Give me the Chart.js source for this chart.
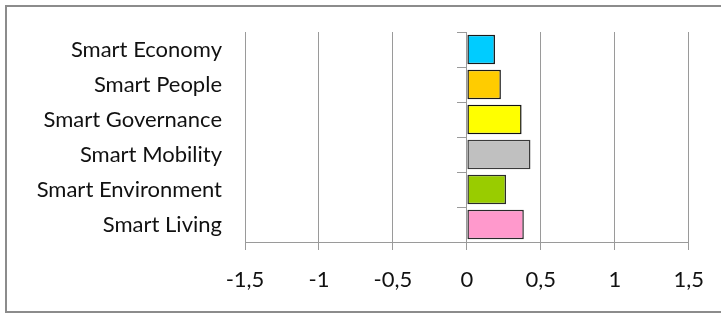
<!DOCTYPE html>
<html>
<head>
<meta charset="utf-8">
<script src="https://cdn.jsdelivr.net/npm/chart.js@4"></script>
<style>
  html, body { margin: 0; padding: 0; background: #fff; }
  #wrap { position: relative; width: 721px; height: 320px; overflow: hidden; }
  #frame { position: absolute; left: 5px; top: 5px; width: 800px; height: 304px; border: 2px solid #8c8c8c; }
  canvas { position: absolute; left: 0; top: 0; }
</style>
</head>
<body>
<div id="wrap">
  <div id="frame"></div>
  <canvas id="barChart" width="721" height="320"></canvas>
</div>
<script>
// データ
const categories = ['Smart Economy', 'Smart People', 'Smart Governance', 'Smart Mobility', 'Smart Environment', 'Smart Living'];
const scores = [0.19, 0.23, 0.37, 0.43, 0.265, 0.385];
const xTicks = [-1.5, -1, -0.5, 0, 0.5, 1, 1.5];

// 色
const barColors = ['#00ccff', '#ffcc00', '#ffff00', '#c0c0c0', '#99cc00', '#ff99cc'];
const barBorders = ['#1a1a1a', '#1a1a1a', '#111', '#3a3a3a', '#2a2a2a', '#2a2a2a'];

const labelFont = { family: 'Lato, "Open Sans", sans-serif', size: 22 };

const ctx = document.getElementById('barChart').getContext('2d');
const barChart = new Chart(ctx, {
    type: 'bar',
    data: {
        labels: categories,
        datasets: [{
            data: scores,
            backgroundColor: barColors,
            borderColor: barBorders,
            borderWidth: 1.5,
            borderSkipped: false,
            categoryPercentage: 1,
            barPercentage: 0.84
        }]
    },
    options: {
        indexAxis: 'y',
        responsive: false,
        animation: false,
        layout: { padding: { top: 32, right: 31, left: 0, bottom: 0 } },
        plugins: { legend: { display: false }, tooltip: { enabled: false } },
        scales: {
            x: {
                min: -1.5,
                max: 1.5,
                afterBuildTicks: (axis) => { axis.ticks = xTicks.map(v => ({ value: v })); },
                afterFit: (axis) => { axis.height = 78; },
                grid: { color: '#9a9a9a', lineWidth: 1, tickLength: 8 },
                border: { color: '#9a9a9a' },
                ticks: {
                    color: '#111',
                    font: labelFont,
                    padding: 17,
                    callback: (v) => String(v).replace('.', ',')
                }
            },
            y: {
                afterFit: (axis) => { axis.width = 245; },
                grid: { display: false },
                border: { display: false },
                ticks: { color: '#111', font: labelFont, padding: 15 }
            },
            // 0の位置の縦軸（目盛り線のみ）
            y0: {
                type: 'category',
                labels: categories,
                position: { x: 0 },
                offset: true,
                grid: { offset: true, drawOnChartArea: false, tickLength: 9, color: '#9a9a9a' },
                border: { color: '#9a9a9a' },
                ticks: { display: false }
            }
        }
    }
});
</script>
</body>
</html>
